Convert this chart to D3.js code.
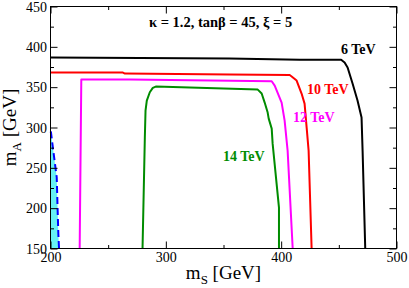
<!DOCTYPE html>
<html><head><meta charset="utf-8">
<script src="https://cdn.jsdelivr.net/npm/d3@7"></script>
<style>html,body{margin:0;padding:0;background:#fff;}svg{display:block;}</style>
</head><body>
<svg id="c" width="409" height="288"></svg>
<script>
const xTickValues = [200, 250, 300, 350, 400, 450, 500];
const xTickLabels = [200, 300, 400, 500];
const yTickValues = [150, 175, 200, 225, 250, 275, 300, 325, 350, 375, 400, 425, 450];
const yTickLabels = [150, 200, 250, 300, 350, 400, 450];

const curve6 = [[200,386.7],[355,385.5],[416,383.9],[452,383.9],[455,380.5],[457.6,374.3],[461.9,354.5],[466.2,333.4],[469.7,312.3],[470.6,271.3],[472.9,150]];
const curve10 = [[200,368.1],[262.8,368.1],[264.5,366.9],[355.4,365.6],[407.4,365.0],[409.1,363.2],[413.4,358.2],[417.7,342.1],[420.3,329.6],[422.1,299.9],[423.8,271.3],[426.4,150]];
const curve12 = [[225.3,150],[226.7,359.4],[268.8,359.4],[391.8,357.3],[394.4,352.0],[400.4,330.9],[403.0,308.6],[405.6,271.3],[410.0,150]];
const curve14 = [[279.8,150],[281.8,287.5],[282.4,321.0],[283.5,333.4],[286.1,343.7],[288.7,349.1],[291.3,350.7],[379.7,347.0],[383.1,342.1],[385.7,330.9],[388.3,318.5],[389.2,311.0],[391.8,298.6],[392.6,280.0],[398.1,200.6],[398.1,150]];
const curveExcl = [[200,295],[200.4,294.0],[202.4,271.3],[205.4,238.2],[206.2,196.9],[206.8,168.4],[207.4,150]];

const curves = [
  {name:"6 TeV", data:curve6, color:"#000000", lx:341, ly:54},
  {name:"10 TeV", data:curve10, color:"#ff0000", lx:307, ly:93.5},
  {name:"12 TeV", data:curve12, color:"#ff00ff", lx:293, ly:122},
  {name:"14 TeV", data:curve14, color:"#008c00", lx:223, ly:160.5}
];

const svg = d3.select("#c");
const x = d3.scaleLinear().domain([200,500]).range([50.5,396.5]);
const y = d3.scaleLinear().domain([150,450]).range([248.5,6.5]);
const font = "'Liberation Serif','Times New Roman',serif";

const line = d3.line().x(d=>x(d[0])).y(d=>y(d[1]));

// excluded region fill
svg.append("path")
  .attr("d", line(curveExcl.concat([[200,150]])))
  .attr("fill","#66f2f5").attr("stroke","none");

svg.append("path").datum(curveExcl).attr("d",line).attr("fill","none")
  .attr("stroke","#0000ff").attr("stroke-width",2).attr("stroke-dasharray","7,4");

curves.forEach(c=>{
  svg.append("path").datum(c.data).attr("d",line).attr("fill","none")
    .attr("stroke",c.color).attr("stroke-width",2).attr("stroke-linejoin","round");
  svg.append("text").attr("x",c.lx).attr("y",c.ly).text(c.name)
    .attr("font-family",font).attr("font-weight","bold").attr("font-size",14).attr("fill",c.color);
});

// frame
svg.append("rect").attr("x",x(200)).attr("y",y(450)).attr("width",x(500)-x(200)).attr("height",y(150)-y(450))
  .attr("fill","none").attr("stroke","#000").attr("stroke-width",1);

const isMajX = v => xTickLabels.includes(v);
const isMajY = v => yTickLabels.includes(v);
// bottom & top ticks (inward)
[[y(150),-1],[y(450),1]].forEach(([yy,dir])=>{
  const g = svg.append("g").attr("transform",`translate(0,${yy})`)
    .call(d3.axisBottom(x).tickValues(xTickValues).tickSizeInner(0).tickSizeOuter(0).tickFormat(""));
  g.select(".domain").remove();
  g.selectAll(".tick line").attr("y2", d=>dir*(isMajX(d)?7:3.5)).attr("stroke","#000");
});
[[x(200),1],[x(500),-1]].forEach(([xx,dir])=>{
  const g = svg.append("g").attr("transform",`translate(${xx},0)`)
    .call(d3.axisLeft(y).tickValues(yTickValues).tickSizeInner(0).tickSizeOuter(0).tickFormat(""));
  g.select(".domain").remove();
  g.selectAll(".tick line").attr("x2", d=>dir*(isMajY(d)?7:3.5)).attr("stroke","#000");
});

// tick labels
const gx = svg.append("g").attr("transform",`translate(0,${y(150)})`)
  .call(d3.axisBottom(x).tickValues(xTickLabels).tickSize(0).tickPadding(0).tickFormat(d3.format("d")));
gx.select(".domain").remove();
gx.selectAll("text").attr("dy",null).attr("y",13.5).attr("font-family",font).attr("font-size",14).attr("fill","#000");

const gy = svg.append("g").attr("transform",`translate(${x(200)},0)`)
  .call(d3.axisLeft(y).tickValues(yTickLabels).tickSize(0).tickPadding(0).tickFormat(d3.format("d")));
gy.select(".domain").remove();
gy.selectAll("text").attr("dy",null).attr("x",-3.5).attr("y",4.7).attr("font-family",font).attr("font-size",14).attr("fill","#000");

// axis titles
const xt = svg.append("text").attr("x",x(350)).attr("y",279).attr("text-anchor","middle")
  .attr("font-family",font).attr("font-size",19).attr("fill","#000");
xt.append("tspan").text("m");
xt.append("tspan").text("S").attr("font-size",13).attr("dy",5);
xt.append("tspan").text(" [GeV]").attr("dy",-5);

const yt = svg.append("text").attr("transform",`translate(16,${y(300)}) rotate(-90)`).attr("text-anchor","middle")
  .attr("font-family",font).attr("font-size",19).attr("fill","#000");
yt.append("tspan").text("m");
yt.append("tspan").text("A").attr("font-size",13).attr("dy",5);
yt.append("tspan").text(" [GeV]").attr("dy",-5);

// annotation
svg.append("text").attr("x",149).attr("y",27).text("κ = 1.2, tanβ = 45, ξ = 5")
  .attr("font-family",font).attr("font-weight","bold").attr("font-size",14.5).attr("fill","#000");
</script>
</body></html>
